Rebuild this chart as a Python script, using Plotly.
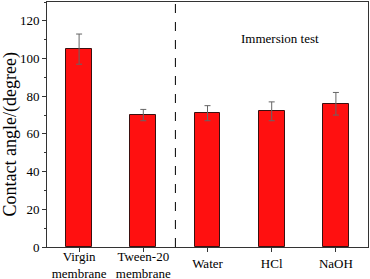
import plotly.graph_objects as go

categories = ["Virgin<br>membrane", "Tween-20<br>membrane", "Water", "HCl", "NaOH"]
positions = [1, 2, 3, 4, 5]
contact_angle = [105, 70, 71, 72, 76]
error = [8, 3, 4, 5, 6]
y_ticks = [0, 20, 40, 60, 80, 100, 120]

FONT = "Liberation Serif"

fig = go.Figure()
fig.add_trace(go.Bar(
    x=positions, y=contact_angle, width=0.4,
    marker=dict(color="#ff1010", line=dict(color="#3a1010", width=1)),
    error_y=dict(type="data", array=error, color="#666666", thickness=1, width=3),
    showlegend=False,
))
# invisible trace so the second (single-line label) x axis is drawn
fig.add_trace(go.Scatter(x=[positions[2]], y=[None], xaxis="x2", yaxis="y",
                         showlegend=False, hoverinfo="skip"))

fig.add_shape(type="line", x0=2.5, x1=2.5, y0=0, y1=1, xref="x", yref="paper",
              line=dict(color="black", width=1, dash="dash"))
fig.add_annotation(x=4.125, y=110.5, xref="x", yref="y", text="Immersion test",
                   showarrow=False, font=dict(family=FONT, size=13, color="black"))
fig.add_annotation(x=-0.115, y=0.46, xref="paper", yref="paper", text="Contact angle/(degree)",
                   textangle=-90, showarrow=False, xanchor="center", yanchor="middle",
                   borderpad=0,
                   font=dict(family=FONT, size=18, color="black"))

axis_common = dict(showline=True, linecolor="#333333", linewidth=1,
                   ticks="outside", tickcolor="#333333", ticklen=4,
                   tickfont=dict(family=FONT, size=13, color="black"),
                   showgrid=False, zeroline=False)

fig.update_layout(
    xaxis=dict(range=[0.5, 5.5], tickvals=positions[:2], ticktext=categories[:2],
               mirror=True, ticklabelstandoff=-7, **axis_common),
    xaxis2=dict(range=[0.5, 5.5], tickvals=positions[2:], ticktext=categories[2:],
                overlaying="x", anchor="y", side="bottom", ticklabelstandoff=0,
                **axis_common),
    yaxis=dict(range=[0, 130], tickvals=y_ticks, mirror=True,
               minor=dict(ticks="outside", ticklen=2, tickcolor="#333333", dtick=10, showgrid=False),
               **axis_common),
    width=370, height=279, margin=dict(l=47, r=2, t=2, b=32, autoexpand=False),
    plot_bgcolor="white", paper_bgcolor="white", bargap=0,
)

fig.write_html("out.html", config={"displayModeBar": False},
               post_script="document.body.style.margin='0';")
